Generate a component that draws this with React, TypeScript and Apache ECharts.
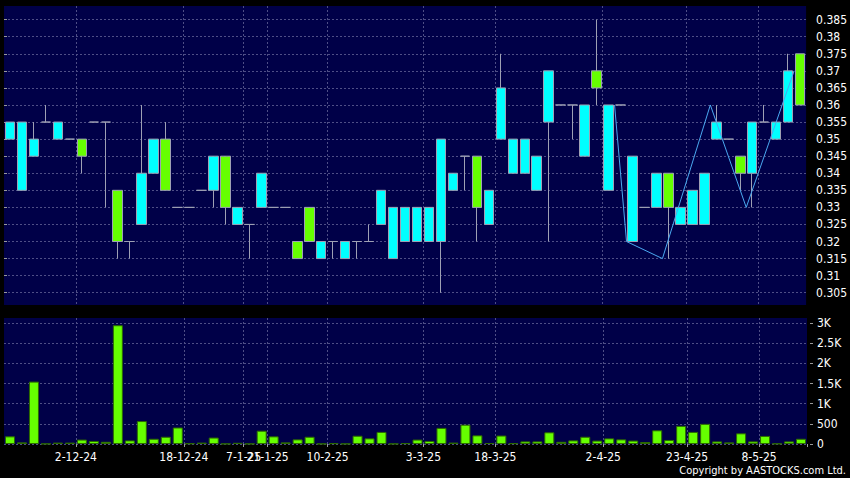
import React, { useEffect, useRef } from 'react';
import * as echarts from 'echarts';

// x-axis date labels: category index (left boundary) and text
const dateLabelIndex = [6, 15, 20, 22, 27, 35, 41, 50, 57, 63];
const dateLabelText = ['2-12-24', '18-12-24', '7-1-25', '21-1-25', '10-2-25', '3-3-25', '18-3-25', '2-4-25', '23-4-25', '8-5-25'];

// daily candles (67 sessions)
const opens = [
  0.35, 0.335, 0.345, 0.355, 0.35, 0.35, 0.35, 0.355, 0.355, 0.335,
  0.32, 0.325, 0.34, 0.35, 0.33, 0.33, 0.335, 0.335, 0.345, 0.325,
  0.325, 0.33, 0.33, 0.33, 0.32, 0.33, 0.315, 0.32, 0.315, 0.32,
  0.32, 0.325, 0.315, 0.32, 0.32, 0.32, 0.32, 0.335, 0.345, 0.345,
  0.325, 0.35, 0.34, 0.34, 0.335, 0.355, 0.36, 0.36, 0.345, 0.37,
  0.335, 0.36, 0.32, 0.33, 0.33, 0.34, 0.325, 0.325, 0.325, 0.35,
  0.35, 0.345, 0.34, 0.355, 0.35, 0.355, 0.375,
];
const closes = [
  0.355, 0.355, 0.35, 0.355, 0.355, 0.35, 0.345, 0.355, 0.355, 0.32,
  0.32, 0.34, 0.35, 0.335, 0.33, 0.33, 0.335, 0.345, 0.33, 0.33,
  0.325, 0.34, 0.33, 0.33, 0.315, 0.32, 0.32, 0.32, 0.32, 0.32,
  0.32, 0.335, 0.33, 0.33, 0.33, 0.33, 0.35, 0.34, 0.345, 0.33,
  0.335, 0.365, 0.35, 0.35, 0.345, 0.37, 0.36, 0.36, 0.36, 0.365,
  0.36, 0.36, 0.345, 0.33, 0.34, 0.33, 0.33, 0.335, 0.34, 0.355,
  0.35, 0.34, 0.355, 0.355, 0.355, 0.37, 0.36,
];
const lows = [
  0.35, 0.335, 0.345, 0.355, 0.35, 0.35, 0.34, 0.355, 0.33, 0.315,
  0.315, 0.325, 0.34, 0.335, 0.33, 0.33, 0.335, 0.33, 0.325, 0.325,
  0.315, 0.33, 0.33, 0.33, 0.315, 0.32, 0.315, 0.315, 0.315, 0.315,
  0.32, 0.325, 0.315, 0.32, 0.32, 0.32, 0.305, 0.335, 0.335, 0.32,
  0.325, 0.35, 0.34, 0.34, 0.335, 0.32, 0.36, 0.35, 0.345, 0.36,
  0.335, 0.36, 0.32, 0.33, 0.33, 0.315, 0.325, 0.325, 0.325, 0.35,
  0.35, 0.335, 0.33, 0.355, 0.35, 0.355, 0.36,
];
const highs = [
  0.355, 0.355, 0.355, 0.36, 0.355, 0.35, 0.35, 0.355, 0.355, 0.335,
  0.32, 0.36, 0.35, 0.355, 0.33, 0.33, 0.335, 0.345, 0.345, 0.33,
  0.325, 0.34, 0.33, 0.33, 0.32, 0.33, 0.32, 0.32, 0.32, 0.32,
  0.325, 0.335, 0.33, 0.33, 0.33, 0.33, 0.35, 0.34, 0.345, 0.345,
  0.335, 0.375, 0.35, 0.35, 0.345, 0.37, 0.36, 0.36, 0.36, 0.385,
  0.36, 0.36, 0.345, 0.33, 0.34, 0.34, 0.33, 0.335, 0.34, 0.36,
  0.35, 0.345, 0.355, 0.36, 0.355, 0.375, 0.375,
];
const volumes = [
  190, 40, 1550, 5, 35, 35, 110, 75, 55, 2950,
  90, 570, 130, 180, 410, 15, 35, 160, 5, 30,
  5, 330, 190, 40, 115, 180, 5, 20, 5, 205,
  140, 300, 5, 20, 110, 75, 400, 35, 480, 215,
  25, 210, 20, 65, 65, 290, 55, 90, 180, 85,
  140, 115, 85, 50, 340, 100, 450, 300, 500, 65,
  40, 265, 65, 200, 10, 65, 130,
];

// zigzag overlay: vertices on session boundaries
const zigzagIndex = [51, 52, 55, 59, 62, 66];
const zigzagValue = [0.36, 0.32, 0.315, 0.36, 0.33, 0.37];

// axis tick labels
const priceTicks = [0.305, 0.31, 0.315, 0.32, 0.325, 0.33, 0.335, 0.34, 0.345, 0.35, 0.355, 0.36, 0.365, 0.37, 0.375, 0.38, 0.385];
const volumeTicks = [0, 500, 1000, 1500, 2000, 2500, 3000];

const FONT = '"DejaVu Sans Condensed", "DejaVu Sans", sans-serif';

export default function App() {
  const ref = useRef<HTMLDivElement>(null);
  useEffect(() => {
    document.body.style.margin = '0';
    document.body.style.background = '#000';
    const chart = echarts.init(ref.current!, null, { renderer: 'svg' });
    const categories = opens.map((_, i) => String(i));
    const labelFor = new Map<number, string>(dateLabelIndex.map((idx, k) => [idx, dateLabelText[k]]));
    const isLabelled = (i: number) => labelFor.has(i);
    const candles = opens.map((o, i) => [o, closes[i], lows[i], highs[i]]);
    const zigzag = zigzagIndex.map((x, i) => [x, zigzagValue[i]]);
    const gridLineStyle = { color: '#4e4e86', type: [2, 2], width: 1 };
    const tickColor = '#9a9a9a';

    const option: any = {
      animation: false,
      backgroundColor: '#000',
      textStyle: { fontFamily: FONT },
      grid: [
        { left: 4, right: 43, top: 6, height: 299, show: true, backgroundColor: '#000048', borderWidth: 0 },
        { left: 4, right: 43, top: 318, height: 126, show: true, backgroundColor: '#000048', borderWidth: 0 },
      ],
      xAxis: [
        {
          gridIndex: 0, type: 'category', data: categories, boundaryGap: true,
          axisLine: { show: false }, axisTick: { show: false }, axisLabel: { show: false },
          splitLine: { show: true, interval: (i: number) => isLabelled(i), showMaxLine: false, lineStyle: gridLineStyle },
        },
        {
          gridIndex: 1, type: 'category', data: categories, boundaryGap: true,
          axisLine: { show: false },
          axisTick: { show: true, interval: (i: number) => isLabelled(i), length: 3, lineStyle: { color: tickColor } },
          axisLabel: {
            show: true, interval: (i: number) => isLabelled(i),
            formatter: (_v: string, i: number) => labelFor.get(i) ?? '',
            color: '#fff', fontSize: 12, fontFamily: FONT, margin: 7, padding: [0, 12, 0, 0],
          },
          splitLine: { show: true, interval: (i: number) => isLabelled(i), showMaxLine: false, lineStyle: gridLineStyle },
        },
        { gridIndex: 0, type: 'value', min: 0, max: 67, show: false, position: 'top' },
      ],
      yAxis: [
        {
          gridIndex: 0, type: 'value', position: 'right', min: 0.3014, max: 0.389, offset: 3,
          axisLine: { show: false },
          axisTick: { show: true, length: 3, lineStyle: { color: tickColor }, customValues: priceTicks },
          axisLabel: { color: '#fff', fontSize: 12, fontFamily: FONT, margin: 7, customValues: priceTicks },
          splitLine: { show: true, lineStyle: gridLineStyle },
        },
        {
          gridIndex: 1, type: 'value', position: 'right', min: 0, max: 3130, offset: 3,
          axisLine: { show: false },
          axisTick: { show: true, length: 3, lineStyle: { color: tickColor }, customValues: volumeTicks },
          axisLabel: {
            color: '#fff', fontSize: 12, fontFamily: FONT, margin: 7, customValues: volumeTicks,
            formatter: (v: number) => (v >= 1000 ? `${v / 1000}K` : String(v)),
          },
          splitLine: { show: true, lineStyle: gridLineStyle },
        },
      ],
      series: [
        {
          type: 'candlestick', xAxisIndex: 0, yAxisIndex: 0, data: candles, barWidth: 10,
          itemStyle: {
            color: '#00ffff', color0: '#66ff00',
            borderColor: '#9ea0b4', borderColor0: '#9ea0b4', borderColorDoji: '#9ea0b4', borderWidth: 1,
          },
        },
        {
          type: 'line', xAxisIndex: 2, yAxisIndex: 0, data: zigzag, symbol: 'none', z: 5,
          lineStyle: { color: '#4aa8f0', width: 1 },
        },
        {
          type: 'bar', xAxisIndex: 1, yAxisIndex: 1, data: volumes, barWidth: 10,
          itemStyle: { color: '#66ff00', borderColor: '#2d6a00', borderWidth: 1 },
        },
      ],
      graphic: [
        {
          type: 'text', right: 4, top: 465,
          style: { text: 'Copyright by AASTOCKS.com Ltd.', fill: '#fff', font: `11px ${FONT}` },
        },
      ],
    };
    chart.setOption(option);
    return () => chart.dispose();
  }, []);
  return (
    <div style={{ position: 'fixed', left: 0, top: 0, width: 850, height: 478, background: '#000' }}>
      <div ref={ref} style={{ width: 850, height: 478 }} />
    </div>
  );
}
